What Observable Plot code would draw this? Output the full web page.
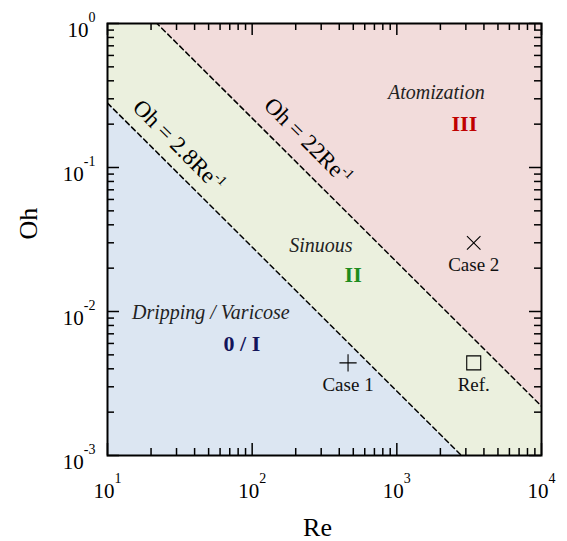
<!DOCTYPE html>
<html><head><meta charset="utf-8">
<script src="https://cdn.jsdelivr.net/npm/d3@7"></script>
<script src="https://cdn.jsdelivr.net/npm/@observablehq/plot@0.6"></script>
<style>body{margin:0;background:#fff} #chart{width:567px;height:541px}</style>
</head><body><div id="chart"></div>
<script>
// ---- data ----
const reDomain = [10, 10000];
const ohDomain = [0.001, 1];
const boundaryRe = [10, 10000];
const coefLow = 2.8;   // Oh = 2.8 Re^-1
const coefHigh = 22;   // Oh = 22 Re^-1

const xTickValues = [10, 100, 1000, 10000];
const xTickLabels = ["10^1", "10^2", "10^3", "10^4"];
const yTickValues = [0.001, 0.01, 0.1, 1];
const yTickLabels = ["10^-3", "10^-2", "10^-1", "10^0"];

const caseNames = ["Case 1", "Case 2", "Ref."];
const caseRe = [460, 3400, 3400];
const caseOh = [0.0044, 0.03, 0.0044];

const regimeNames = ["Atomization", "Sinuous", "Dripping / Varicose"];
const regimeRe = [1875, 299, 51.8];
const regimeOh = [0.297, 0.0261, 0.00894];

const regimeNumerals = ["III", "II", "0 / I"];
const numeralRe = [2930, 499, 84.9];
const numeralOh = [0.178, 0.0159, 0.00528];
const numeralColors = ["#c00000", "#1e8c1e", "#14145a"];

const lineLabels = ["Oh = 2.8Re^-1", "Oh = 22Re^-1"];
const lineLabelRe = [31, 243];
const lineLabelOh = [0.142, 0.152];

// ---- layout ----
const W = 567, H = 541, mL = 107, mR = 26, mT = 23, mB = 86;
const innerW = W - mL - mR, innerH = H - mT - mB;
const majorLen = 12, minorLen = 7;

const isMajor = v => Math.abs(Math.log10(v) - Math.round(Math.log10(v))) < 1e-6;
const xMinor = d3.scaleLog().domain(reDomain).ticks().filter(v => !isMajor(v));
const yMinor = d3.scaleLog().domain(ohDomain).ticks().filter(v => !isMajor(v));

const cases = caseNames.map((name, i) => ({name, Re: caseRe[i], Oh: caseOh[i]}));
const regimes = regimeNames.map((name, i) => ({name, Re: regimeRe[i], Oh: regimeOh[i]}));
const numerals = regimeNumerals.map((name, i) => ({name, Re: numeralRe[i], Oh: numeralOh[i], color: numeralColors[i]}));
const lineLabelData = lineLabels.map((name, i) => ({name, Re: lineLabelRe[i], Oh: lineLabelOh[i]}));

const tickStroke = {stroke: "#000", strokeWidth: 1.5};

const chart = Plot.plot({
  width: W, height: H,
  marginLeft: mL, marginRight: mR, marginTop: mT, marginBottom: mB,
  style: {fontFamily: "'Liberation Serif', 'Times New Roman', serif", background: "#fff", color: "#000"},
  x: {type: "log", domain: reDomain, axis: null},
  y: {type: "log", domain: ohDomain, axis: null},
  marks: [
    // regime regions
    Plot.areaY(boundaryRe, {x: d => d, y1: ohDomain[0], y2: d => coefLow / d, fill: "#DCE6F2", clip: true}),
    Plot.areaY(boundaryRe, {x: d => d, y1: d => coefLow / d, y2: d => coefHigh / d, fill: "#EBF0DE", clip: true}),
    Plot.areaY(boundaryRe, {x: d => d, y1: d => coefHigh / d, y2: ohDomain[1], fill: "#F2DCDB", clip: true}),
    // boundaries
    Plot.line(boundaryRe, {x: d => d, y: d => coefLow / d, stroke: "#000", strokeWidth: 1.5, strokeDasharray: "5,3.5", clip: true}),
    Plot.line(boundaryRe, {x: d => d, y: d => coefHigh / d, stroke: "#000", strokeWidth: 1.5, strokeDasharray: "5,3.5", clip: true}),
    // inward ticks: bottom, top, left, right
    Plot.ruleX(xTickValues, {x: d => d, insetTop: innerH - majorLen, ...tickStroke}),
    Plot.ruleX(xMinor, {x: d => d, insetTop: innerH - minorLen, ...tickStroke}),
    Plot.ruleX(xTickValues, {x: d => d, insetBottom: innerH - majorLen, ...tickStroke}),
    Plot.ruleX(xMinor, {x: d => d, insetBottom: innerH - minorLen, ...tickStroke}),
    Plot.ruleY(yTickValues, {y: d => d, insetRight: innerW - majorLen, ...tickStroke}),
    Plot.ruleY(yMinor, {y: d => d, insetRight: innerW - minorLen, ...tickStroke}),
    Plot.ruleY(yTickValues, {y: d => d, insetLeft: innerW - majorLen, ...tickStroke}),
    Plot.ruleY(yMinor, {y: d => d, insetLeft: innerW - minorLen, ...tickStroke}),
    Plot.frame({stroke: "#000", strokeWidth: 2}),
    // tick labels
    Plot.text(xTickValues, {x: d => d, frameAnchor: "bottom", text: (d, i) => xTickLabels[i], dy: 42, lineAnchor: "bottom", fontSize: 21, fill: "#000"}),
    Plot.text(yTickValues, {y: d => d, frameAnchor: "left", text: (d, i) => yTickLabels[i], textAnchor: "end", dx: -12, dy: 13.5, lineAnchor: "bottom", fontSize: 21, fill: "#000"}),
    // axis labels
    Plot.text(["Oh"], {frameAnchor: "left", text: d => d, dx: -79, rotate: -90, fontSize: 26, fill: "#000"}),
    Plot.text(["Re"], {frameAnchor: "bottom", text: d => d, dx: -7, dy: 80, lineAnchor: "bottom", fontSize: 26, fill: "#000"}),
    // boundary labels
    Plot.text(lineLabelData, {x: "Re", y: "Oh", text: "name", rotate: 45, fontSize: 23, fill: "#000"}),
    // regime labels
    Plot.text(regimes, {x: "Re", y: "Oh", text: "name", lineAnchor: "bottom", fontSize: 20, fontStyle: "italic", fill: "#222"}),
    Plot.text(numerals, {x: "Re", y: "Oh", text: "name", lineAnchor: "bottom", fontSize: 22, fontWeight: "bold", fill: d => d.color}),
    // cases
    Plot.dot(cases.slice(0, 1), {x: "Re", y: "Oh", symbol: "plus", r: 5.6, stroke: "#000", strokeWidth: 1.1}),
    Plot.dot(cases.slice(1, 2), {x: "Re", y: "Oh", symbol: "times", r: 6.2, stroke: "#000", strokeWidth: 1.1}),
    Plot.dot(cases.slice(2, 3), {x: "Re", y: "Oh", symbol: "square2", r: 8.9, stroke: "#000", strokeWidth: 1.1}),
    Plot.text(cases, {x: "Re", y: "Oh", text: "name", dy: 28, lineAnchor: "bottom", fontSize: 19, fill: "#111"})
  ]
});

// turn "a^b" into a with superscript b
function supify(root) {
  root.querySelectorAll("text, tspan").forEach(el => {
    if (el.children.length) return;
    const s = el.textContent;
    const k = s.indexOf("^");
    if (k < 0) return;
    const isTick = s.startsWith("10^");
    el.textContent = s.slice(0, k);
    const t = document.createElementNS("http://www.w3.org/2000/svg", "tspan");
    t.setAttribute("font-size", isTick ? 14 : 14);
    t.setAttribute("dy", isTick ? -15 : -9);
    t.textContent = s.slice(k + 1);
    el.appendChild(t);
  });
}
supify(chart);
document.getElementById("chart").appendChild(chart);
</script>
</body></html>
